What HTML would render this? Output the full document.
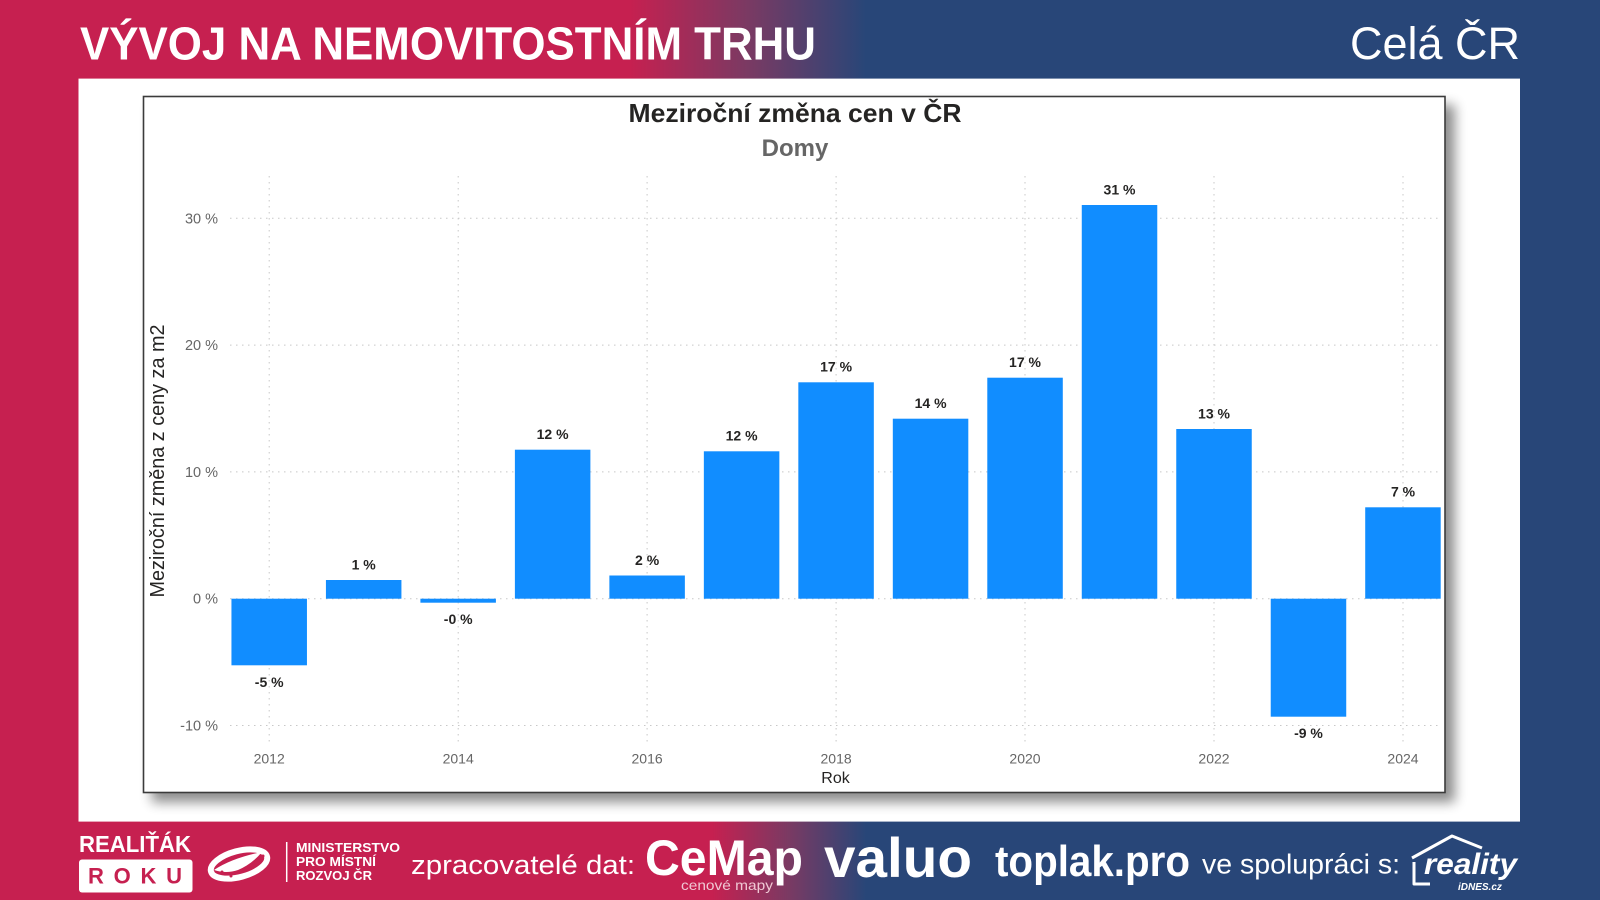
<!DOCTYPE html>
<html>
<head>
<meta charset="utf-8">
<style>
  html,body{margin:0;padding:0;width:1600px;height:900px;overflow:hidden;background:#fff;}
  svg{display:block;}
  text{font-family:"Liberation Sans", Arial, sans-serif;}
</style>
</head>
<body>
<svg width="1600" height="900" viewBox="0 0 1600 900" xmlns="http://www.w3.org/2000/svg">
  <defs>
    <linearGradient id="gTop" gradientUnits="userSpaceOnUse" x1="630" y1="0" x2="866" y2="0">
      <stop offset="0" stop-color="#C62050"/>
      <stop offset="0.5" stop-color="#7A3A63"/>
      <stop offset="1" stop-color="#284678"/>
    </linearGradient>
    <linearGradient id="gBot" gradientUnits="userSpaceOnUse" x1="712" y1="0" x2="866" y2="0">
      <stop offset="0" stop-color="#C62050"/>
      <stop offset="0.5" stop-color="#7A3A63"/>
      <stop offset="1" stop-color="#284678"/>
    </linearGradient>
    <filter id="shadow" x="-5%" y="-5%" width="112%" height="115%">
      <feGaussianBlur in="SourceAlpha" stdDeviation="6"/>
      <feOffset dx="9" dy="9" result="b"/>
      <feComponentTransfer><feFuncA type="linear" slope="0.45"/></feComponentTransfer>
      <feMerge><feMergeNode/><feMergeNode in="SourceGraphic"/></feMerge>
    </filter>
  </defs>

  <!-- backgrounds -->
  <rect x="0" y="0" width="1600" height="450" fill="url(#gTop)"/>
  <rect x="0" y="450" width="1600" height="450" fill="url(#gBot)"/>
  <rect x="0" y="78" width="79" height="744" fill="#C62050"/>
  <rect x="1520" y="78" width="80" height="744" fill="#284678"/>

  <!-- white panel -->
  <rect x="78.5" y="78.6" width="1441.5" height="743" fill="#ffffff"/>

  <!-- header -->
  <text x="80" y="59.5" font-size="46" font-weight="bold" fill="#ffffff" textLength="736" lengthAdjust="spacingAndGlyphs">VÝVOJ NA NEMOVITOSTNÍM TRHU</text>
  <text x="1350" y="59" font-size="45" fill="#ffffff" textLength="170" lengthAdjust="spacingAndGlyphs">Celá ČR</text>

  <!-- chart frame -->
  <rect x="143.5" y="96.5" width="1301.5" height="696" fill="#ffffff" stroke="#3a3a3a" stroke-width="1.6" filter="url(#shadow)"/>

  <!-- titles -->
  <text x="795" y="122" font-size="26" font-weight="bold" fill="#252423" text-anchor="middle" textLength="333" lengthAdjust="spacingAndGlyphs">Meziroční změna cen v ČR</text>
  <text x="795" y="156" font-size="24" font-weight="bold" fill="#666666" text-anchor="middle">Domy</text>

  <!-- gridlines -->
  <g stroke="#c8c8c8" stroke-width="1" stroke-dasharray="1.5 4.5" fill="none">
    <line x1="230" y1="218.3" x2="1438" y2="218.3"/>
    <line x1="230" y1="345.1" x2="1438" y2="345.1"/>
    <line x1="230" y1="471.9" x2="1438" y2="471.9"/>
    <line x1="230" y1="598.7" x2="1438" y2="598.7"/>
    <line x1="230" y1="725.5" x2="1438" y2="725.5"/>
    <line x1="269.2" y1="176" x2="269.2" y2="746"/>
    <line x1="458.2" y1="176" x2="458.2" y2="746"/>
    <line x1="647.1" y1="176" x2="647.1" y2="746"/>
    <line x1="836.1" y1="176" x2="836.1" y2="746"/>
    <line x1="1025.0" y1="176" x2="1025.0" y2="746"/>
    <line x1="1214.0" y1="176" x2="1214.0" y2="746"/>
    <line x1="1403.0" y1="176" x2="1403.0" y2="746"/>
  </g>

  <!-- y tick labels -->
  <g font-size="14.5" fill="#666666" text-anchor="end">
    <text x="218" y="223.3">30 %</text>
    <text x="218" y="350.1">20 %</text>
    <text x="218" y="476.9">10 %</text>
    <text x="218" y="603.7">0 %</text>
    <text x="218" y="730.5">-10 %</text>
  </g>

  <!-- bars -->
  <g fill="#118DFF">
    <rect x="231.45" y="598.7" width="75.5" height="66.6"/>
    <rect x="325.93" y="580" width="75.5" height="18.7"/>
    <rect x="420.41" y="598.7" width="75.5" height="4"/>
    <rect x="514.89" y="449.7" width="75.5" height="149"/>
    <rect x="609.37" y="575.5" width="75.5" height="23.2"/>
    <rect x="703.85" y="451.3" width="75.5" height="147.4"/>
    <rect x="798.33" y="382.3" width="75.5" height="216.4"/>
    <rect x="892.81" y="418.7" width="75.5" height="180"/>
    <rect x="987.29" y="377.7" width="75.5" height="221"/>
    <rect x="1081.77" y="205" width="75.5" height="393.7"/>
    <rect x="1176.25" y="429" width="75.5" height="169.7"/>
    <rect x="1270.73" y="598.7" width="75.5" height="118"/>
    <rect x="1365.21" y="507.3" width="75.5" height="91.4"/>
  </g>

  <!-- data labels -->
  <g font-size="14" font-weight="bold" fill="#252423" text-anchor="middle">
    <text x="269.2" y="686.8">-5 %</text>
    <text x="363.7" y="569.3">1 %</text>
    <text x="458.2" y="624.2">-0 %</text>
    <text x="552.6" y="439">12 %</text>
    <text x="647.1" y="564.8">2 %</text>
    <text x="741.6" y="440.6">12 %</text>
    <text x="836.1" y="371.6">17 %</text>
    <text x="930.6" y="408">14 %</text>
    <text x="1025.0" y="367">17 %</text>
    <text x="1119.5" y="194.3">31 %</text>
    <text x="1214.0" y="418.3">13 %</text>
    <text x="1308.5" y="738.2">-9 %</text>
    <text x="1403.0" y="496.6">7 %</text>
  </g>

  <!-- x tick labels -->
  <g font-size="14" fill="#666666" text-anchor="middle">
    <text x="269.2" y="763.7">2012</text>
    <text x="458.2" y="763.7">2014</text>
    <text x="647.1" y="763.7">2016</text>
    <text x="836.1" y="763.7">2018</text>
    <text x="1025.0" y="763.7">2020</text>
    <text x="1214.0" y="763.7">2022</text>
    <text x="1403.0" y="763.7">2024</text>
  </g>

  <!-- axis titles -->
  <text x="835.5" y="783" font-size="16" fill="#252423" text-anchor="middle">Rok</text>
  <text transform="translate(164,461) rotate(-90)" x="0" y="0" font-size="20" fill="#252423" text-anchor="middle" textLength="273" lengthAdjust="spacingAndGlyphs">Meziroční změna z ceny za m2</text>

  <!-- footer -->
  <text x="79" y="852" font-size="23" font-weight="bold" fill="#ffffff" textLength="112" lengthAdjust="spacingAndGlyphs">REALIŤÁK</text>
  <rect x="79" y="859.5" width="113.5" height="33" rx="3" fill="#ffffff"/>
  <text x="88" y="883.5" font-size="22" font-weight="bold" fill="#C62050" textLength="94" lengthAdjust="spacing">ROKU</text>

  <!-- ministry emblem -->
  <ellipse cx="239" cy="864" rx="29" ry="13" fill="none" stroke="#ffffff" stroke-width="6" transform="rotate(-15 239 864)"/>
  <path d="M214 870 Q232 858 262 852 Q252 864 238 870 Q226 874 214 870 Z" fill="#ffffff"/>
  <g fill="#C62050">
    <circle cx="222" cy="872" r="1.5"/><circle cx="231" cy="876" r="1.5"/><circle cx="256" cy="861" r="1.5"/><circle cx="263" cy="856" r="1.5"/>
  </g>
  <line x1="286.7" y1="842" x2="286.7" y2="882" stroke="#ffffff" stroke-width="1.5"/>
  <g font-size="13" font-weight="bold" fill="#ffffff">
    <text x="296" y="852" textLength="104" lengthAdjust="spacingAndGlyphs">MINISTERSTVO</text>
    <text x="296" y="866" textLength="80" lengthAdjust="spacingAndGlyphs">PRO MÍSTNÍ</text>
    <text x="296" y="880" textLength="76" lengthAdjust="spacingAndGlyphs">ROZVOJ ČR</text>
  </g>

  <text x="411" y="874" font-size="27" fill="#ffffff" textLength="224" lengthAdjust="spacingAndGlyphs">zpracovatelé dat:</text>
  <text x="645" y="875" font-size="50" font-weight="bold" fill="#ffffff" textLength="158" lengthAdjust="spacingAndGlyphs">CeMap</text>
  <text x="681" y="890" font-size="14" fill="#f0c8d4" textLength="92" lengthAdjust="spacingAndGlyphs">cenové mapy</text>
  <text x="824" y="877" font-size="56" font-weight="bold" fill="#ffffff" textLength="148" lengthAdjust="spacingAndGlyphs">valuo</text>
  <text x="995" y="876" font-size="44" font-weight="bold" fill="#ffffff" textLength="195" lengthAdjust="spacingAndGlyphs">toplak.pro</text>
  <text x="1202" y="873.5" font-size="28" fill="#ffffff" textLength="198" lengthAdjust="spacingAndGlyphs">ve spolupráci s:</text>

  <!-- reality iDNES logo -->
  <path d="M1414 862 L1414 884 L1430 884 M1412 858 L1452 836 L1482 848" fill="none" stroke="#ffffff" stroke-width="3" stroke-linejoin="round"/>
  <text x="1424" y="874" font-size="30" font-weight="bold" font-style="italic" fill="#ffffff" textLength="93" lengthAdjust="spacingAndGlyphs">reality</text>
  <text x="1458" y="890" font-size="10" font-weight="bold" font-style="italic" fill="#ffffff">iDNES.cz</text>
</svg>
</body>
</html>
